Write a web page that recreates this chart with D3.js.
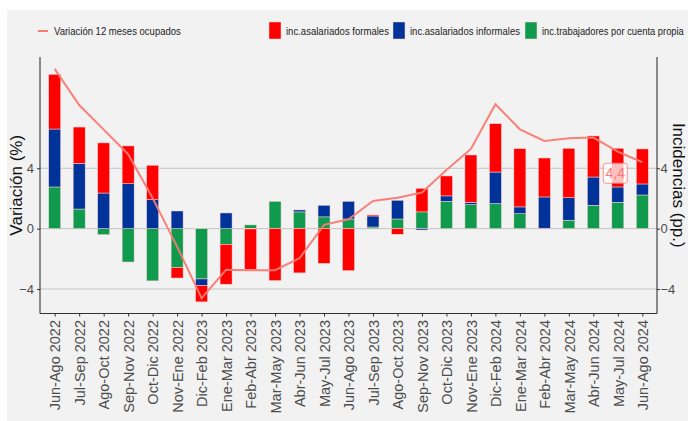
<!DOCTYPE html>
<html><head><meta charset="utf-8">
<script src="https://cdn.jsdelivr.net/npm/d3@7"></script>
<style>
html,body{margin:0;padding:0;background:#fff;}
svg{display:block;}
</style></head>
<body>
<svg id="chart" width="688" height="421"></svg>
<script>
const categories = ["Jun-Ago 2022","Jul-Sep 2022","Ago-Oct 2022","Sep-Nov 2022","Oct-Dic 2022","Nov-Ene 2022","Dic-Feb 2023","Ene-Mar 2023","Feb-Abr 2023","Mar-May 2023","Abr-Jun 2023","May-Jul 2023","Jun-Ago 2023","Jul-Sep 2023","Ago-Oct 2023","Sep-Nov 2023","Oct-Dic 2023","Nov-Ene 2023","Dic-Feb 2024","Ene-Mar 2024","Feb-Abr 2024","Mar-May 2024","Abr-Jun 2024","May-Jul 2024","Jun-Ago 2024"];
const formales   = [3.62, 2.40, 3.32, 2.50, 2.28, -0.69, -1.08, -2.64, -2.67, -3.44, -2.93, -2.30, -2.78, 0.07, -0.37, 1.56, 1.32, 3.13, 3.20, 3.86, 2.58, 3.27, 2.72, 2.56, 2.32];
const informales = [3.84, 3.03, 2.36, 2.98, 1.92, 1.17, -0.44, 1.04, -0.02, 0.00, 0.13, 0.77, 1.17, 0.73, 1.24, -0.09, 0.36, 0.16, 2.09, 0.45, 2.07, 1.49, 1.87, 1.01, 0.73];
const cuentaPropia = [2.76, 1.30, -0.40, -2.21, -3.46, -2.58, -3.33, -1.04, 0.25, 1.81, 1.11, 0.78, 0.64, 0.11, 0.64, 1.11, 1.81, 1.59, 1.66, 0.99, 0.03, 0.56, 1.55, 1.75, 2.23];
const variacion = [10.58, 8.19, 6.56, 4.93, 2.03, -1.19, -4.61, -2.73, -2.75, -2.75, -1.96, 0.25, 0.62, 1.83, 2.05, 2.39, 3.89, 5.28, 8.24, 6.58, 5.81, 5.99, 6.03, 5.10, 4.40];
const yTicks = [-4, 0, 4];
const seriesNames = ["inc.trabajadores por cuenta propia","inc.asalariados informales","inc.asalariados formales"];
const lineName = "Variación 12 meses ocupados";
const lastLabel = "4,4";

const colors = {"inc.asalariados formales":"#ff0000","inc.asalariados informales":"#003399","inc.trabajadores por cuenta propia":"#109a4e"};
const lineColor = "#f97a72";

const svg = d3.select("#chart");
const W = 688, H = 421;
const L = 40, R = 657, T = 57, B = 313.5;

svg.append("rect").attr("x",7).attr("y",10).attr("width",W-7).attr("height",H-10).attr("fill","#f2f2f2");

const x = d3.scalePoint().domain(categories).range([L,R]).padding(0.6);
const y = d3.scaleLinear().domain([-5.62, 11.37]).range([B, T]);

// gridlines
svg.append("g").selectAll("line").data(yTicks).join("line")
  .attr("x1",L).attr("x2",R).attr("y1",d=>y(d)).attr("y2",d=>y(d))
  .attr("stroke","#c4c4c4").attr("stroke-width",1);

// stacked bars
const seriesData = {
  "inc.trabajadores por cuenta propia": cuentaPropia,
  "inc.asalariados informales": informales,
  "inc.asalariados formales": formales
};
const rects = [];
categories.forEach((c,i)=>{
  let pos = 0, neg = 0;
  seriesNames.forEach(s=>{
    const v = seriesData[s][i];
    let y0, y1;
    if (v >= 0) { y0 = pos; y1 = pos + v; pos = y1; }
    else { y0 = neg + v; y1 = neg; neg = y0; }
    rects.push({c, s, y0, y1});
  });
});
const bw = 12;
svg.append("g").selectAll("rect").data(rects).join("rect")
  .attr("x",d=>x(d.c)-bw/2).attr("width",bw)
  .attr("y",d=>y(d.y1)).attr("height",d=>Math.max(0,y(d.y0)-y(d.y1)))
  .attr("fill",d=>colors[d.s])
  .attr("stroke","#ffd6d6").attr("stroke-width",0.5);

// line
const line = d3.line().x((d,i)=>x(categories[i])).y(d=>y(d));
svg.append("path").datum(variacion).attr("d",line)
  .attr("fill","none").attr("stroke",lineColor).attr("stroke-width",2).attr("stroke-opacity",0.95);

// label for last value
const lx = x(categories[categories.length-1]) - 27, ly = y(variacion[variacion.length-1]) + 11;
const lg = svg.append("g").attr("transform",`translate(${lx},${ly})`);
lg.append("rect").attr("x",-12).attr("y",-10).attr("width",24).attr("height",20).attr("rx",2.5)
  .attr("fill","#ffffff").attr("fill-opacity",0.75).attr("stroke",lineColor).attr("stroke-width",0.8);
lg.append("text").attr("text-anchor","middle").attr("dy","0.36em")
  .attr("font-family","Liberation Sans, Arial, sans-serif").attr("font-size",14)
  .attr("fill",lineColor).text(lastLabel);

// axes
const axCol = "#333333";
const gl = svg.append("g").attr("transform",`translate(${L},0)`)
  .call(d3.axisLeft(y).tickValues(yTicks).tickSize(3).tickPadding(3).tickFormat(d3.format("d")));
const gr = svg.append("g").attr("transform",`translate(${R},0)`)
  .call(d3.axisRight(y).tickValues(yTicks).tickSize(3).tickPadding(0.5).tickFormat(d3.format("d")));
const gb = svg.append("g").attr("transform",`translate(0,${B})`)
  .call(d3.axisBottom(x).tickSize(3).tickSizeOuter(0));
[gl,gr].forEach(g=>{
  g.select(".domain").attr("d",`M0,${T}V${B}`);
});
gb.select(".domain").attr("d",`M${L},0H${R}`);
[gl,gr,gb].forEach(g=>{
  g.select(".domain").attr("stroke",axCol).attr("stroke-width",1.1);
  g.selectAll(".tick line").attr("stroke",axCol);
  g.selectAll("text").attr("font-family","Liberation Sans, Arial, sans-serif").attr("fill","#4d4d4d");
});
[gl,gr].forEach(g=>g.selectAll("text").attr("font-size",13));
gb.selectAll("text").attr("font-size",14.5)
  .attr("transform","rotate(-90)").attr("text-anchor","end")
  .attr("x",-6.5).attr("y",0).attr("dy","0.36em");

// axis titles
svg.append("text").attr("transform",`translate(22,${(T+B)/2}) rotate(-90)`)
  .attr("text-anchor","middle").attr("font-family","Liberation Sans, Arial, sans-serif")
  .attr("font-size",17).attr("fill","#111").text("Variación (%)");
svg.append("text").attr("transform",`translate(673,${(T+B)/2}) rotate(90)`)
  .attr("text-anchor","middle").attr("font-family","Liberation Sans, Arial, sans-serif")
  .attr("font-size",17).attr("fill","#111").text("Incidencias (pp.)");

// legend (condensed by horizontal scaling to match reference widths)
const lf = "Liberation Sans, Arial, sans-serif";
const leg = svg.append("g");
function condensedText(xPos, label, target){
  const t = leg.append("text").attr("x",0).attr("y",0).attr("dy","0.35em")
    .attr("font-family",lf).attr("font-size",11.5).attr("fill","#222").text(label);
  const len = t.node().getComputedTextLength();
  const s = Math.min(1, target/len);
  t.attr("transform",`translate(${xPos},31) scale(${s},1)`);
}
leg.append("line").attr("x1",38).attr("x2",48).attr("y1",31).attr("y2",31)
  .attr("stroke",lineColor).attr("stroke-width",2);
condensedText(54, lineName, 127);
const legItems = [
  {name:"inc.asalariados formales", kx:269, tl:103},
  {name:"inc.asalariados informales", kx:393, tl:110},
  {name:"inc.trabajadores por cuenta propia", kx:525, tl:142}
];
legItems.forEach(it=>{
  leg.append("rect").attr("x",it.kx).attr("y",22).attr("width",12).attr("height",17)
    .attr("fill",colors[it.name]).attr("stroke","#ffd6d6").attr("stroke-width",0.5);
  condensedText(it.kx+17, it.name, it.tl);
});
</script>
</body></html>
